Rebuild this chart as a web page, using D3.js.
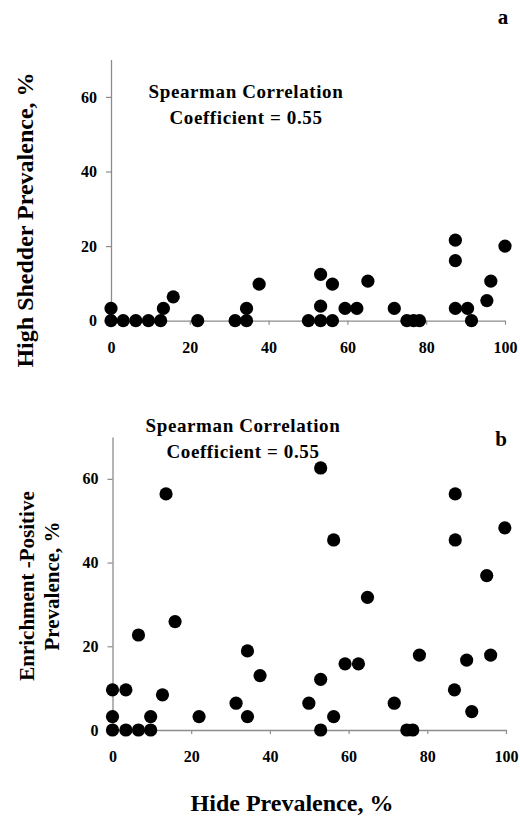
<!DOCTYPE html>
<html>
<head>
<meta charset="utf-8">
<script src="https://cdn.jsdelivr.net/npm/d3@7"></script>
<style>
  html, body { margin: 0; padding: 0; background: #fff; }
  svg { display: block; }
  svg text { font-family: "Liberation Serif", "Times New Roman", Times, "DejaVu Serif", serif !important; font-weight: bold; fill: #000; }
</style>
</head>
<body>
<svg id="chart" width="520" height="817"></svg>
<script>
// Hide prevalence (%) per lot, paired with high-shedder prevalence (%)
const hideA    = [0, 0, 3.1, 6.3, 9.5, 12.6, 13.3, 15.8, 22, 31.5, 34.4, 34.4, 37.6, 50.1, 53.2, 53.2, 53.2, 56.2, 56.2, 59.4, 62.4, 65.2, 71.9, 75.1, 76.8, 78.3, 87.4, 87.4, 87.4, 90.5, 91.5, 95.4, 96.4, 100];
const shedderA = [3.3, 0, 0, 0, 0, 0, 3.3, 6.4, 0, 0, 3.3, 0, 9.8, 0, 12.4, 3.9, 0, 9.8, 0, 3.3, 3.3, 10.6, 3.3, 0, 0, 0, 21.6, 16.1, 3.3, 3.3, 0, 5.4, 10.6, 20];

// Hide prevalence (%) per lot, paired with enrichment-positive prevalence (%)
const hideB    = [0, 3.4, 0, 0, 3.4, 6.6, 9.7, 9.7, 6.6, 12.7, 13.6, 15.9, 22, 31.4, 34.3, 34.3, 37.5, 49.9, 52.9, 52.9, 52.9, 56.2, 56.2, 59.1, 62.5, 64.8, 71.6, 74.8, 76.3, 78, 86.9, 87.1, 87.1, 90, 91.3, 95.1, 96.1, 99.7];
const enrichB  = [9.6, 9.6, 3.2, 0, 0, 0, 0, 3.2, 22.7, 8.4, 56.4, 25.9, 3.2, 6.4, 18.9, 3.2, 13, 6.4, 62.6, 12.1, 0, 45.4, 3.2, 15.8, 15.8, 31.7, 6.4, 0, 0, 17.9, 9.6, 56.4, 45.4, 16.7, 4.4, 36.9, 17.9, 48.3];

const xTicks = [0, 20, 40, 60, 80, 100];
const yTicks = [0, 20, 40, 60];
const xDomain = [0, 100];
const yDomain = [0, 70];
const rho = 0.55;

const svg = d3.select("#chart");

function panel(cfg) {
  const x = d3.scaleLinear().domain(xDomain).range([cfg.left, cfg.right]);
  const y = d3.scaleLinear().domain(yDomain).range([cfg.bottom, cfg.top]);
  const g = svg.append("g");

  const yAxis = g.append("g")
    .attr("transform", `translate(${cfg.left},0)`)
    .call(d3.axisLeft(y).tickValues(yTicks).tickSize(5).tickSizeOuter(0).tickPadding(9));
  const xAxis = g.append("g")
    .attr("transform", `translate(0,${cfg.bottom})`)
    .call(d3.axisBottom(x).tickValues(xTicks).tickSize(4).tickSizeOuter(0).tickPadding(17));

  [xAxis, yAxis].forEach(a => {
    a.attr("font-family", null).attr("font-size", null);
    a.select(".domain").attr("stroke", "#8c8c8c").attr("stroke-width", 1.3);
    a.selectAll(".tick line").attr("stroke", "#8c8c8c").attr("stroke-width", 1.2);
    a.selectAll(".tick text")
      .attr("font-size", 16)
      .attr("fill", "#000");
  });
  xAxis.selectAll(".tick text").attr("dy", "0.71em");

  const pts = cfg.xs.map((v, i) => [v, cfg.ys[i]]);
  g.append("g").selectAll("circle")
    .data(pts)
    .join("circle")
    .attr("cx", d => x(d[0]))
    .attr("cy", d => y(d[1]))
    .attr("r", 6.6)
    .attr("fill", "#000");

  // correlation annotation
  const note = g.append("text")
    .attr("text-anchor", "middle")
    .attr("font-size", 19)
    .attr("letter-spacing", 0.6);
  note.append("tspan").attr("x", cfg.noteX).attr("y", cfg.noteY).text("Spearman Correlation");
  note.append("tspan").attr("x", cfg.noteX).attr("y", cfg.noteY + 26).text(`Coefficient = ${rho.toFixed(2)}`);

  g.append("text")
    .attr("x", cfg.letterX).attr("y", cfg.letterY)
    .attr("text-anchor", "middle")
    .attr("font-size", 21)
    .text(cfg.letter);

  return { g, x, y };
}

const a = panel({
  left: 111, right: 505, top: 59.6, bottom: 320.7,
  xs: hideA, ys: shedderA,
  noteX: 246, noteY: 98, letter: "a", letterX: 503, letterY: 24
});
a.g.append("text")
  .attr("transform", "translate(33,220) rotate(-90)")
  .attr("text-anchor", "middle")
  .attr("font-size", 24)
  .text("High Shedder Prevalence, %");

const b = panel({
  left: 112.5, right: 506, top: 437, bottom: 730,
  xs: hideB, ys: enrichB,
  noteX: 243, noteY: 432, letter: "b", letterX: 501, letterY: 446
});
const yl = b.g.append("text")
  .attr("transform", "translate(0,586) rotate(-90)")
  .attr("text-anchor", "middle")
  .attr("font-size", 21);
yl.append("tspan").attr("x", 0).attr("y", 34).text("Enrichment -Positive");
yl.append("tspan").attr("x", 0).attr("y", 59).text("Prevalence, %");

svg.append("text")
  .attr("x", 292).attr("y", 811)
  .attr("text-anchor", "middle")
  .attr("font-size", 24)
  .text("Hide Prevalence, %");
</script>
</body>
</html>
